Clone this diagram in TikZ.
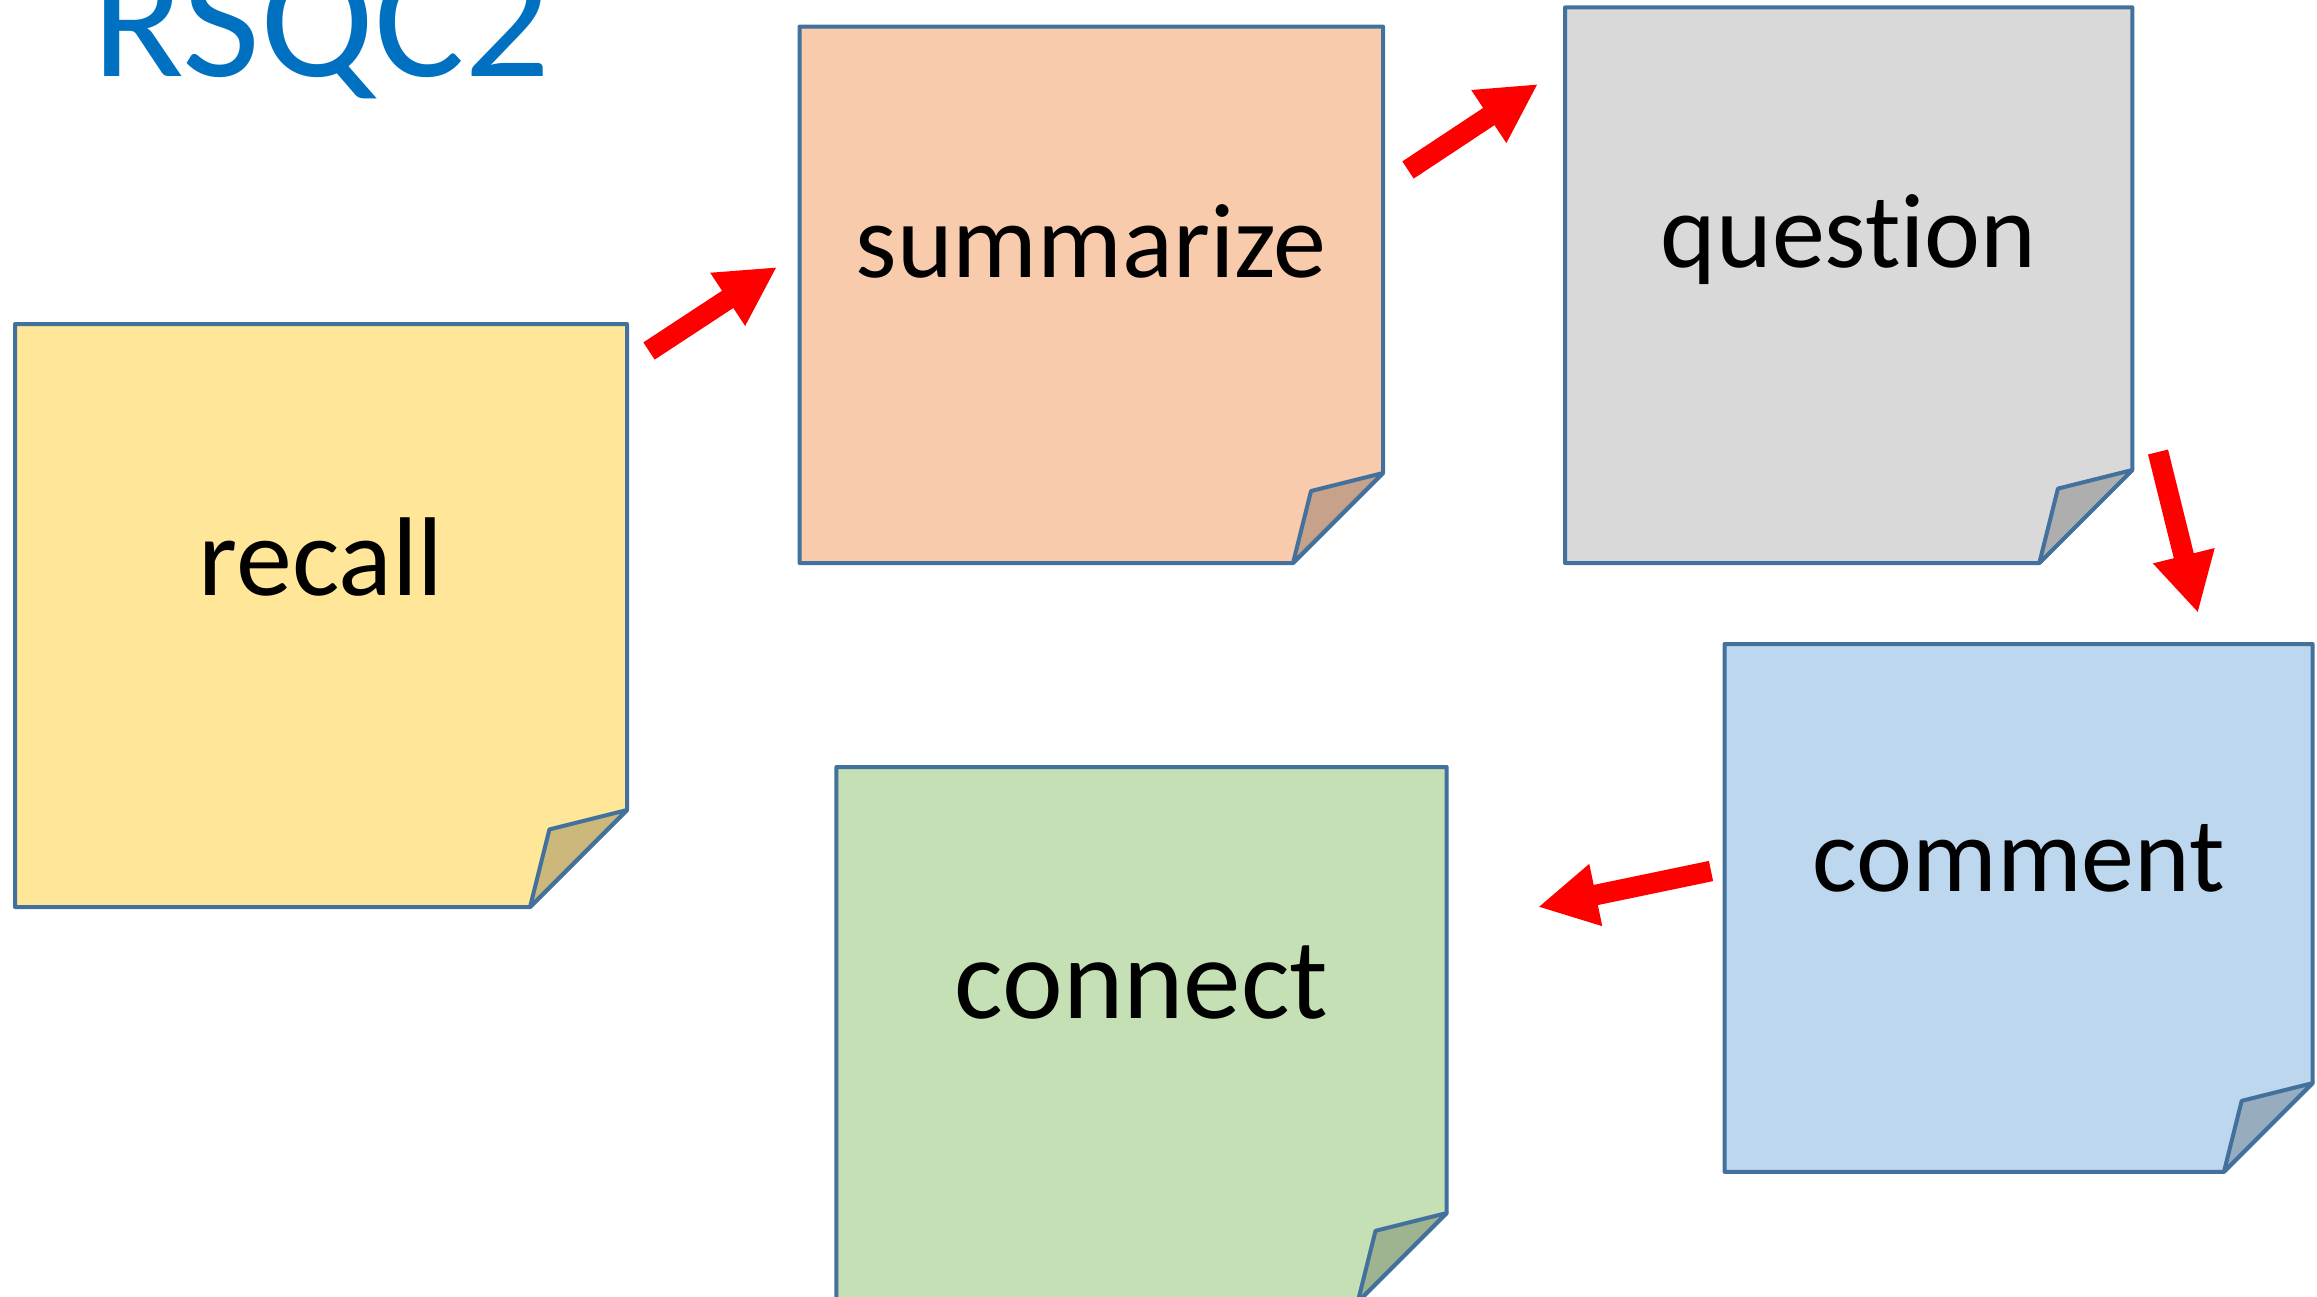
\documentclass[tikz,border=0pt]{standalone}
\usepackage{fontspec}
\setmainfont{Carlito}[Ligatures=CommonOff]
\usetikzlibrary{arrows.meta}

\definecolor{noteline}{HTML}{41719C}
\definecolor{titleblue}{HTML}{0070C0}
\definecolor{recallnote}{HTML}{FFE699}
\definecolor{recallfold}{HTML}{CCB87A}
\definecolor{summnote}{HTML}{F8CBAD}
\definecolor{summfold}{HTML}{C6A28A}
\definecolor{questnote}{HTML}{D9D9D9}
\definecolor{questfold}{HTML}{AEAEAE}
\definecolor{commnote}{HTML}{BDD7EE}
\definecolor{commfold}{HTML}{97ACBE}
\definecolor{connnote}{HTML}{C5E0B4}
\definecolor{connfold}{HTML}{9EB390}

\newcommand\labelsize[1]{\fontsize{#1}{#1}\selectfont}

% #1 name, #2 left, #3 top, #4 right, #5 bottom, #6 fold size,
% #7 colour stem, #8 label, #9 label baseline
\newcommand\stickynote[9]{%
  \filldraw[noteedge, fill=#7note]
    (#2,#3) -- (#4,#3) -- ({#4},{#5-#6}) -- ({#4-#6},{#5}) -- (#2,#5) -- cycle;
  \filldraw[noteedge, fill=#7fold]
    ({#4},{#5-#6}) -- ({#4-0.8*#6},{#5-0.8*#6}) -- ({#4-#6},{#5}) -- cycle;
  \node[notetext] (#1) at ({(#2+#4)/2},#9) {#8};
}

\begin{document}
\begin{tikzpicture}[x=0.5pt, y=-0.5pt,
  noteedge/.style={draw=noteline, line width=2pt, line join=round},
  notetext/.style={anchor=base, inner sep=0pt},
  flowarrow/.style={draw=red, line width=10.3pt,
    -{Triangle[length=29.5pt, width=29.5pt, fill=red]}},
  titletext/.style={anchor=base west, inner sep=0pt, text=titleblue,
    font=\labelsize{84.7}}]

\useasboundingbox (0,0) rectangle (2317,1296);
\clip (0,0) rectangle (2317,1296);

\node[titletext] (title) at (92.5,76) {RSQC2};

\stickynote{recall}{15}{324}{627}{907}{97}{recall}{\labelsize{56}recall}{595}
\stickynote{summarize}{799.5}{26.6}{1383}{563}{90}{summ}{\labelsize{53}summarize}{277}
\stickynote{question}{1565}{7.4}{2132.3}{563}{93}{quest}{\labelsize{53}question}{267.5}
\stickynote{comment}{1724.5}{644}{2312.6}{1171.8}{88.7}{comm}{\labelsize{53}comment}{891}
\stickynote{connect}{836.4}{767}{1446.7}{1302}{89}{conn}{\labelsize{57.5}connect}{1018}

% arrows leading from one note to the next
\coordinate (a1t) at (649,351);   \coordinate (a1h) at (777,267);
\coordinate (a2t) at (1408,170);  \coordinate (a2h) at (1538,84);
\coordinate (a3t) at (2158,452);  \coordinate (a3h) at (2198,613);
\coordinate (a4t) at (1711,871);  \coordinate (a4h) at (1538,907);

\draw[flowarrow] (a1t) -- (a1h);
\draw[flowarrow] (a2t) -- (a2h);
\draw[flowarrow] (a3t) -- (a3h);
\draw[flowarrow] (a4t) -- (a4h);
\end{tikzpicture}
\end{document}
